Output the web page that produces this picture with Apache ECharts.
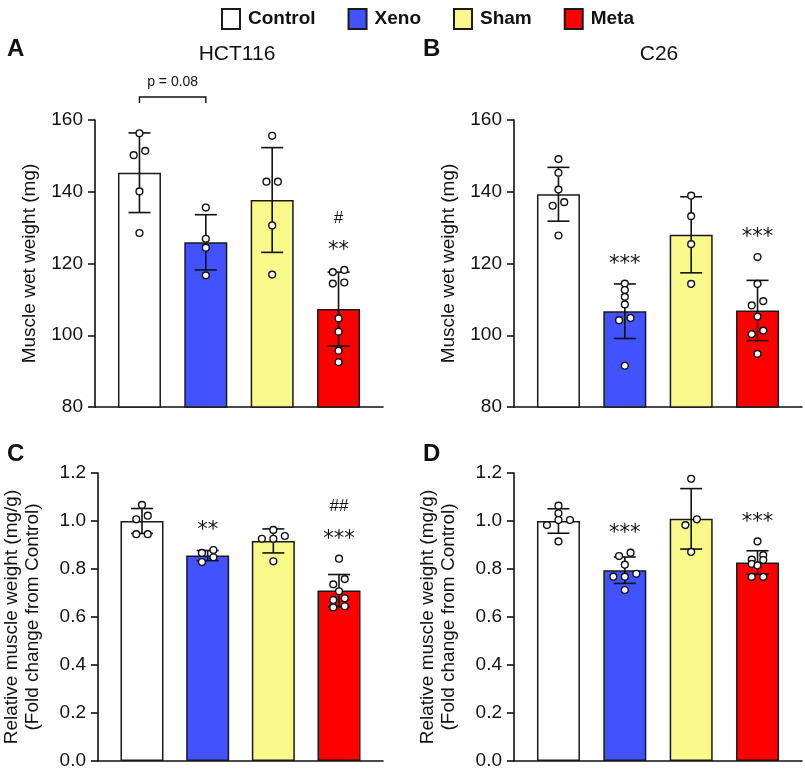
<!DOCTYPE html>
<html>
<head>
<meta charset="utf-8">
<script src="https://cdn.jsdelivr.net/npm/echarts@6/dist/echarts.min.js"></script>
<style>
  html, body { margin: 0; padding: 0; background: #fff; }
  #chart { width: 805px; height: 774px; }
</style>
</head>
<body>
<div id="chart"></div>
<script>
var groups = ['Control', 'Xeno', 'Sham', 'Meta']
var groupColors = ['#ffffff', '#4352ff', '#f9f98b', '#ff0000']

// A - HCT116, muscle wet weight (mg)
var hctWeightMean = [145.3, 125.9, 137.7, 107.3]
var hctWeightSd = [11.1, 7.7, 14.6, 10.3]
var hctWeightDots = [
  [156.3, 151.4, 150.2, 140.1, 128.5],
  [135.6, 126.9, 124.4, 116.7],
  [155.6, 142.8, 142.8, 130.6, 116.9],
  [118.2, 117.6, 114.7, 114.4, 104.7, 101.0, 95.7, 92.5]
]
var hctWeightStars = ['', '', '', '**']
var hctWeightHash = ['', '', '', '#']

// B - C26, muscle wet weight (mg)
var c26WeightMean = [139.3, 106.7, 128.0, 106.9]
var c26WeightSd = [7.5, 7.6, 10.6, 8.4]
var c26WeightDots = [
  [149.1, 145.3, 140.6, 137.1, 136.1, 127.8],
  [114.4, 112.6, 110.7, 108.6, 104.8, 104.2, 91.5],
  [138.9, 133.2, 125.4, 114.3],
  [121.8, 114.3, 109.5, 108.3, 105.2, 101.3, 100.3, 94.8]
]
var c26WeightStars = ['', '***', '', '***']
var c26WeightHash = ['', '', '', '']

// C - HCT116, relative muscle weight (fold change)
var hctRelMean = [1.0, 0.856, 0.917, 0.710]
var hctRelSd = [0.052, 0.021, 0.05, 0.067]
var hctRelDots = [
  [1.067, 1.022, 1.007, 0.945, 0.945],
  [0.879, 0.867, 0.849, 0.829],
  [0.963, 0.9375, 0.926, 0.926, 0.832],
  [0.843, 0.758, 0.736, 0.707, 0.678, 0.671, 0.645, 0.640]
]
var hctRelStars = ['', '**', '', '***']
var hctRelHash = ['', '', '', '##']

// D - C26, relative muscle weight (fold change)
var c26RelMean = [1.0, 0.795, 1.009, 0.827]
var c26RelSd = [0.051, 0.055, 0.126, 0.049]
var c26RelDots = [
  [1.064, 1.032, 1.004, 1.004, 0.983, 0.915],
  [0.868, 0.854, 0.818, 0.780, 0.768, 0.768, 0.7125],
  [1.176, 1.007, 0.983, 0.871],
  [0.915, 0.858, 0.839, 0.8375, 0.821, 0.815, 0.767, 0.767]
]
var c26RelStars = ['', '***', '', '***']
var c26RelHash = ['', '', '', '']

// bracket over Control vs Xeno in panel A
var hctBracket = [0, 1]
var hctBracketText = 'p = 0.08'

var FONT = '"Liberation Sans", Arial, sans-serif'
var INK = '#111'

var panels = [
  { letter: 'A', title: 'HCT116', grid: { left: 95, top: 120, width: 288, height: 287 },
    min: 80, max: 160, interval: 20, digits: 0, name: 'Muscle wet weight (mg)',
    mean: hctWeightMean, sd: hctWeightSd, dots: hctWeightDots, stars: hctWeightStars, hash: hctWeightHash },
  { letter: 'B', title: 'C26', grid: { left: 514, top: 120, width: 288, height: 287 },
    min: 80, max: 160, interval: 20, digits: 0, name: 'Muscle wet weight (mg)',
    mean: c26WeightMean, sd: c26WeightSd, dots: c26WeightDots, stars: c26WeightStars, hash: c26WeightHash },
  { letter: 'C', grid: { left: 95, top: 473, width: 288, height: 288 },
    min: 0, max: 1.2, interval: 0.2, digits: 1, name: 'Relative muscle weight (mg/g)\n(Fold change from Control)',
    mean: hctRelMean, sd: hctRelSd, dots: hctRelDots, stars: hctRelStars, hash: hctRelHash },
  { letter: 'D', grid: { left: 514, top: 473, width: 288, height: 288 },
    min: 0, max: 1.2, interval: 0.2, digits: 1, name: 'Relative muscle weight (mg/g)\n(Fold change from Control)',
    mean: c26RelMean, sd: c26RelSd, dots: c26RelDots, stars: c26RelStars, hash: c26RelHash }
]

var myChart = echarts.init(document.getElementById('chart'))

var grids = []
var xAxes = []
var yAxes = []
var series = []
var titles = []

// spread dots that sit at about the same height side by side (pixel space)
function layoutDots(ys, spacing) {
  var order = ys.map(function(y, j) { return j }).sort(function(a, b) { return ys[a] - ys[b] })
  var clusters = []
  var cur = []
  order.forEach(function(j, n) {
    if (n > 0 && ys[j] - ys[order[n - 1]] >= 6) {
      clusters.push(cur)
      cur = []
    }
    cur.push(j)
  })
  if (cur.length) clusters.push(cur)
  var offs = []
  clusters.forEach(function(c) {
    var rows = c.length <= 3 ? [c] : []
    if (c.length > 3) {
      for (var r = 0; r < c.length; r += 2) rows.push(c.slice(r, r + 2))
    }
    rows.forEach(function(row) {
      // lower value on the left
      row = row.slice().sort(function(a, b) { return ys[a] - ys[b] }).reverse()
      row.forEach(function(j, k) {
        offs[j] = (k - (row.length - 1) / 2) * spacing
      })
    })
  })
  return offs
}

panels.forEach(function(p, k) {
  grids.push(p.grid)
  xAxes.push({
    gridIndex: k, type: 'value', min: -0.67, max: 3.67,
    axisLine: { onZero: false, lineStyle: { color: INK, width: 1.6 } },
    axisTick: { show: false }, axisLabel: { show: false }, splitLine: { show: false }
  })
  yAxes.push({
    gridIndex: k, type: 'value', min: p.min, max: p.max, interval: p.interval,
    name: p.name, nameLocation: 'middle', nameGap: 55,
    nameTextStyle: { fontSize: 19, color: INK, fontFamily: FONT, lineHeight: 21 },
    axisLine: { show: true, onZero: false, lineStyle: { color: INK, width: 1.6 } },
    axisTick: { show: true, length: 7, lineStyle: { color: INK, width: 1.6 } },
    axisLabel: {
      fontSize: 19, color: INK, fontFamily: FONT, margin: 12,
      formatter: function(v) { return v.toFixed(p.digits) }
    },
    splitLine: { show: false }
  })

  groups.forEach(function(g, i) {
    series.push({
      type: 'bar', name: g, xAxisIndex: k, yAxisIndex: k,
      data: [[i, p.mean[i]]],
      barWidth: 43, barGap: '-100%',
      itemStyle: { color: groupColors[i], borderColor: '#1a1a1a', borderWidth: 1.5 },
      silent: true
    })
  })

  // error bars (mean +/- SD)
  series.push({
    type: 'custom', xAxisIndex: k, yAxisIndex: k, silent: true, z: 3,
    data: groups.map(function(g, i) { return [i, p.mean[i], p.sd[i]] }),
    encode: { x: 0, y: 1 },
    renderItem: function(params, api) {
      var i = api.value(0)
      var m = api.value(1)
      var s = api.value(2)
      var top = api.coord([i, m + s])
      var bot = api.coord([i, m - s])
      var x = top[0]
      var st = { stroke: INK, lineWidth: 1.6 }
      return {
        type: 'group',
        children: [
          { type: 'line', shape: { x1: x, y1: top[1], x2: x, y2: bot[1] }, style: st },
          { type: 'line', shape: { x1: x - 11, y1: top[1], x2: x + 11, y2: top[1] }, style: st },
          { type: 'line', shape: { x1: x - 11, y1: bot[1], x2: x + 11, y2: bot[1] }, style: st }
        ]
      }
    }
  })

  // individual animals
  series.push({
    type: 'custom', xAxisIndex: k, yAxisIndex: k, silent: true, z: 4, clip: false,
    data: groups.map(function(g, i) { return [i, p.mean[i]] }),
    encode: { x: 0, y: 1 },
    renderItem: function(params, api) {
      var i = api.value(0)
      var vals = p.dots[i]
      var pts = vals.map(function(v) { return api.coord([i, v]) })
      var offs = layoutDots(pts.map(function(pt) { return pt[1] }), 11.5)
      return {
        type: 'group',
        children: pts.map(function(pt, j) {
          return {
            type: 'circle',
            shape: { cx: pt[0] + offs[j], cy: pt[1], r: 3.4 },
            style: { fill: '#fff', stroke: INK, lineWidth: 1.4 }
          }
        })
      }
    }
  })

  // significance marks
  series.push({
    type: 'custom', xAxisIndex: k, yAxisIndex: k, silent: true, z: 5, clip: false,
    data: groups.map(function(g, i) { return [i, p.mean[i]] }),
    encode: { x: 0, y: 1 },
    renderItem: function(params, api) {
      var i = api.value(0)
      var top = Math.max(p.mean[i] + p.sd[i], Math.max.apply(null, p.dots[i]))
      var pt = api.coord([i, top])
      return {
        type: 'group',
        children: [
          { type: 'text', x: pt[0], y: pt[1] - 19,
            style: { text: p.stars[i], fill: INK, font: '21px "DejaVu Sans"', align: 'center', verticalAlign: 'middle' } },
          { type: 'text', x: pt[0], y: pt[1] - 52,
            style: { text: p.hash[i], fill: INK, font: '17px ' + FONT, align: 'center', verticalAlign: 'middle' } }
        ]
      }
    }
  })

  titles.push({
    text: p.letter, left: k % 2 ? 418 : 2, top: k < 2 ? 32 : 437,
    textStyle: { fontSize: 24, fontWeight: 'bold', color: INK, fontFamily: FONT }
  })
  if (p.title) {
    titles.push({
      text: p.title, left: k === 0 ? 232 : 654, top: 39, textAlign: 'center',
      textStyle: { fontSize: 21, fontWeight: 'normal', color: INK, fontFamily: FONT }
    })
  }
})

// p-value bracket for panel A
series.push({
  type: 'custom', xAxisIndex: 0, yAxisIndex: 0, silent: true, clip: false,
  data: [[hctBracket[0], hctBracket[1]]],
  encode: { x: 0 },
  renderItem: function(params, api) {
    var a = api.coord([api.value(0), panels[0].max])
    var b = api.coord([api.value(1), panels[0].max])
    var y = a[1] - 23
    var st = { stroke: INK, lineWidth: 1.4, fill: null }
    return {
      type: 'group',
      children: [
        { type: 'polyline', shape: { points: [[a[0], y + 6], [a[0], y], [b[0], y], [b[0], y + 6]] }, style: st },
        { type: 'text', x: (a[0] + b[0]) / 2, y: y - 15,
          style: { text: hctBracketText, fill: INK, font: '14px ' + FONT, align: 'center', verticalAlign: 'middle' } }
      ]
    }
  }
})

myChart.setOption({
  backgroundColor: '#fff',
  animation: false,
  title: titles,
  legend: {
    data: groups, top: 3, left: 216, icon: 'rect',
    itemWidth: 18, itemHeight: 20, itemGap: 32, selectedMode: false,
    textStyle: { fontSize: 19, fontWeight: 'bold', color: INK, fontFamily: FONT, padding: [0, 0, 0, 3] }
  },
  grid: grids,
  xAxis: xAxes,
  yAxis: yAxes,
  series: series
})
</script>
</body>
</html>
